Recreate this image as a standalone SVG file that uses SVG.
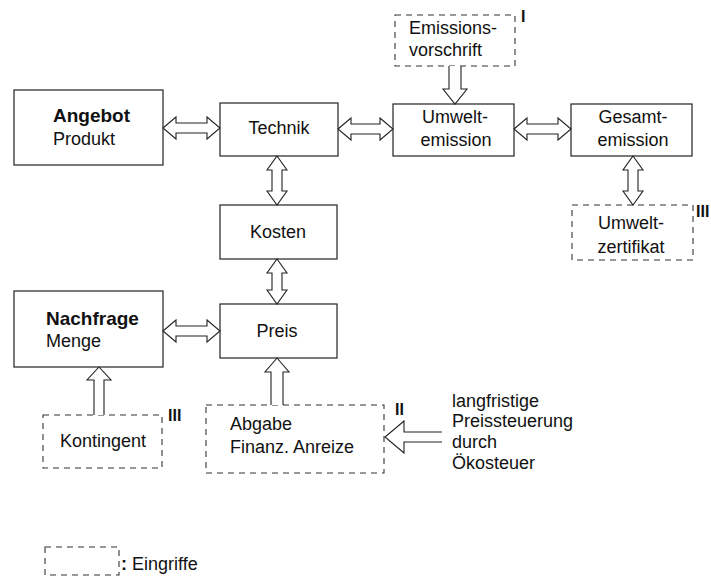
<svg xmlns="http://www.w3.org/2000/svg" width="711" height="577" viewBox="0 0 711 577">
<style>
.box{fill:#fff;stroke:#222;stroke-width:1.2}
.dbox{fill:#fff;stroke:#333;stroke-width:1.1;stroke-dasharray:6 5}
.arr{fill:#fff;stroke:#222;stroke-width:1.1;stroke-linejoin:miter}
text{font-family:"Liberation Sans",Arial,sans-serif;font-size:18px;fill:#111}
.b{font-weight:bold;font-size:19px}
.c{text-anchor:middle}
.lab{font-weight:bold;font-size:16px}
</style>
<rect width="711" height="577" fill="#fff"/>
<g id="angebot"><rect class="box" x="14" y="90" width="149" height="75"/><text class="b" x="53" y="122">Angebot</text><text x="53" y="145">Produkt</text></g>
<g id="technik"><rect class="box" x="220" y="103" width="118" height="53"/><text class="c" x="279" y="134">Technik</text></g>
<g id="umweltemission"><rect class="box" x="393" y="104" width="121" height="52"/><text class="c" x="455" y="123">Umwelt-</text><text class="c" x="456" y="146">emission</text></g>
<g id="gesamtemission"><rect class="box" x="571" y="104" width="121" height="52"/><text class="c" x="633" y="123">Gesamt-</text><text class="c" x="633" y="146">emission</text></g>
<g id="kosten"><rect class="box" x="220" y="205" width="117" height="54"/><text class="c" x="278" y="238">Kosten</text></g>
<g id="preis"><rect class="box" x="220" y="304" width="117" height="54"/><text class="c" x="277" y="337">Preis</text></g>
<g id="nachfrage"><rect class="box" x="14" y="291" width="149" height="76"/><text class="b" x="46" y="325">Nachfrage</text><text x="46" y="347">Menge</text></g>
<g id="emissionsvorschrift"><rect class="dbox" x="395" y="15" width="120" height="51"/><text x="409" y="34">Emissions-</text><text x="409" y="56">vorschrift</text><text class="lab" x="521" y="22">I</text></g>
<g id="umweltzertifikat"><rect class="dbox" x="572" y="205" width="121" height="55"/><text class="c" x="631" y="229">Umwelt-</text><text class="c" x="631" y="253">zertifikat</text><text class="lab" x="696" y="217">III</text></g>
<g id="kontingent"><rect class="dbox" x="43" y="415" width="119" height="53"/><text class="c" x="103" y="447">Kontingent</text><text class="lab" x="168" y="421">III</text></g>
<g id="abgabe"><rect class="dbox" x="206" y="405" width="178" height="68"/><text x="230" y="430">Abgabe</text><text x="230" y="453">Finanz. Anreize</text><text class="lab" x="395" y="415">II</text></g>
<g id="preissteuerung"><text x="452" y="407">langfristige</text><text x="452" y="427">Preissteuerung</text><text x="452" y="448">durch</text><text x="452" y="469">Ökosteuer</text></g>
<g id="legende"><rect class="dbox" x="45" y="547" width="74" height="28"/><text x="121" y="570"><tspan font-weight="bold">:</tspan> Eingriffe</text></g>
<g id="connectors">
<polygon class="arr" points="163,128 176,117 176,123 207,123 207,117 220,128 207,139 207,133 176,133 176,139"/>
<polygon class="arr" points="338,129 351,118 351,124 380,124 380,118 393,129 380,140 380,134 351,134 351,140"/>
<polygon class="arr" points="514,129 527,118 527,124 558,124 558,118 571,129 558,140 558,134 527,134 527,140"/>
<polygon class="arr" points="163,331 176,320 176,326 207,326 207,320 220,331 207,342 207,336 176,336 176,342"/>
<polygon class="arr" points="277,156 287,170 282,170 282,191 287,191 277,205 267,191 272,191 272,170 267,170"/>
<polygon class="arr" points="277,259 287,273 282,273 282,290 287,290 277,304 267,290 272,290 272,273 267,273"/>
<polygon class="arr" points="633,156 643,170 638,170 638,191 643,191 633,205 623,191 628,191 628,170 623,170"/>
<polyline class="arr" points="449,66 449,89 443,89 455,104 467,89 461,89 461,66"/>
<polyline class="arr" points="94,415 94,380 87,380 99,367 111,380 104,380 104,415"/>
<polyline class="arr" points="271,405 271,372 265,372 277,358 289,372 283,372 283,405"/>
<polyline class="arr" points="442,432 404,432 404,421 385,437 404,453 404,442 442,442"/>
</g>
</svg>
